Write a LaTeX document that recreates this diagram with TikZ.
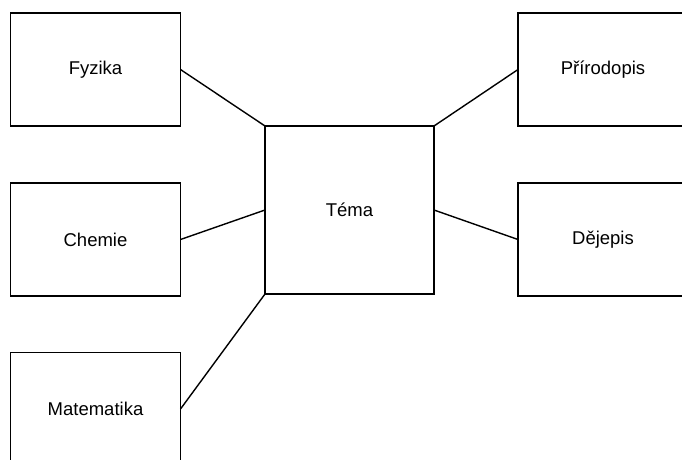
\documentclass[tikz,border=0pt]{standalone}
\usepackage{fontspec}
\setmainfont{Liberation Sans}
\begin{document}
\begin{tikzpicture}[x=1pt,y=-1pt,
  box/.style={draw,line width=1.4pt,inner sep=0pt,outer sep=0pt,minimum width=170pt,minimum height=113pt,font=\fontsize{18.5}{22}\selectfont},
  link/.style={line width=1.4pt}]
\clip (0,0) rectangle (682,459);
\fill[white] (0,0) rectangle (682,459);
\node[box] (fyz) at (95.5,69.5) {Fyzika};
\node[box] (che) at (95.5,239.5) {Chemie};
\node[box] (mat) at (95.5,409) {Matematika};
\node[box] (pri) at (603,69.5) {Přírodopis};
\node[box] (dej) at (603,239.5) {Dějepis};
\node[box,minimum width=169pt,minimum height=168pt] (tema) at (349.5,210) {Téma};
\draw[link] (fyz.east) -- (tema.north west);
\draw[link] (che.east) -- (tema.west);
\draw[link] (mat.east) -- (tema.south west);
\draw[link] (pri.west) -- (tema.north east);
\draw[link] (dej.west) -- (tema.east);
\end{tikzpicture}
\end{document}
